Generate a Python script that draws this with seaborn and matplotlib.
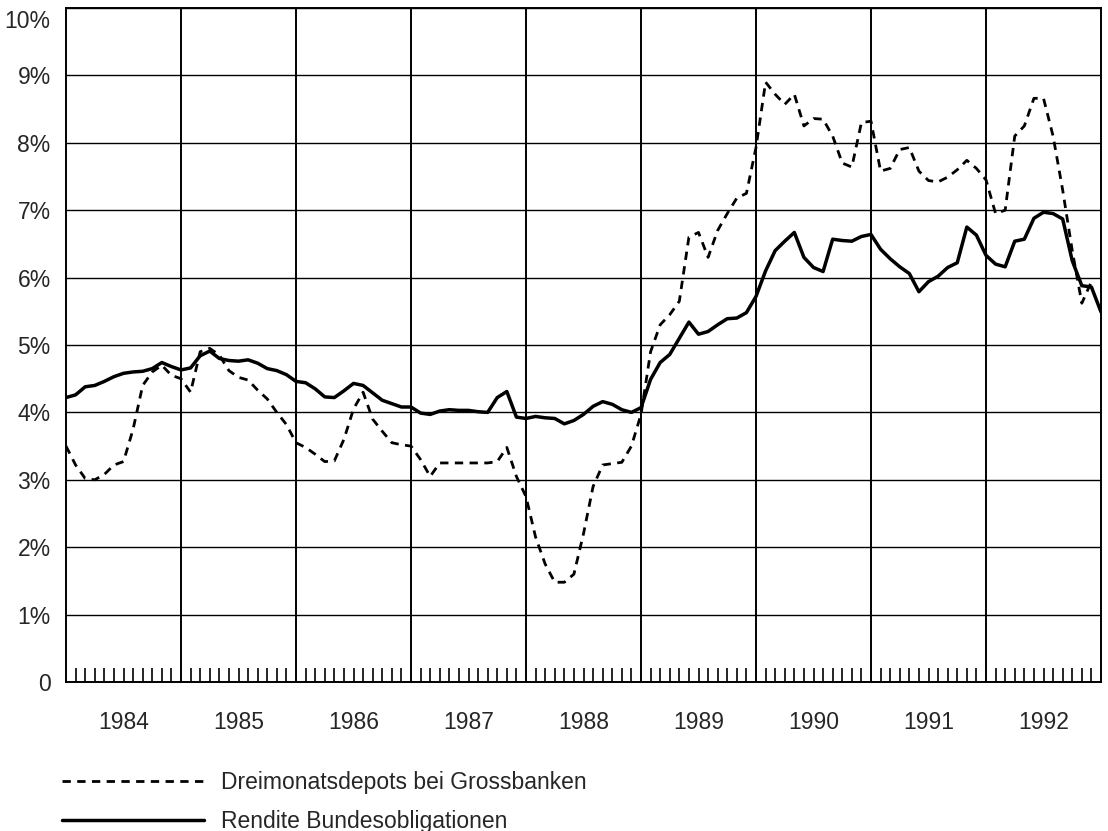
import numpy as np
import pandas as pd
import matplotlib.pyplot as plt
import matplotlib.transforms as mtransforms
import seaborn as sns

# Jahre auf der x-Achse
jahre = [1984, 1985, 1986, 1987, 1988, 1989, 1990, 1991, 1992]

# Monatswerte in Prozent, ab Januar 1984
dreimonat = [
    3.50, 3.22, 3.02, 3.00, 3.08, 3.22, 3.27, 3.75, 4.40, 4.60, 4.70, 4.55,
    4.50, 4.30, 4.90, 4.95, 4.85, 4.62, 4.52, 4.48, 4.33, 4.20, 4.00, 3.82,
    3.55, 3.48, 3.38, 3.27, 3.28, 3.60, 4.05, 4.30, 3.90, 3.72, 3.55, 3.52,
    3.50, 3.30, 3.05, 3.25, 3.25, 3.25, 3.25, 3.25, 3.25, 3.27, 3.48, 3.05,
    2.75, 2.15, 1.75, 1.48, 1.48, 1.60, 2.20, 2.90, 3.22, 3.24, 3.26, 3.50,
    3.97, 4.90, 5.30, 5.45, 5.65, 6.60, 6.67, 6.30, 6.70, 6.95, 7.18, 7.25,
    7.93, 8.90, 8.72, 8.57, 8.72, 8.25, 8.36, 8.35, 8.10, 7.70, 7.64, 8.30,
    8.32, 7.58, 7.62, 7.90, 7.93, 7.58, 7.44, 7.42, 7.49, 7.60, 7.74, 7.62,
    7.45, 6.95, 7.00, 8.10, 8.25, 8.66, 8.66, 8.10, 7.30, 6.40, 5.62, 5.94,
]
rendite = [
    4.22, 4.26, 4.38, 4.40, 4.46, 4.53, 4.58, 4.60, 4.61, 4.65, 4.74, 4.68,
    4.63, 4.66, 4.84, 4.91, 4.80, 4.77, 4.76, 4.78, 4.73, 4.65, 4.62, 4.56,
    4.46, 4.44, 4.35, 4.23, 4.22, 4.32, 4.43, 4.40, 4.29, 4.18, 4.13, 4.08,
    4.08, 3.99, 3.97, 4.02, 4.04, 4.03, 4.03, 4.01, 4.00, 4.22, 4.31, 3.93,
    3.91, 3.94, 3.92, 3.91, 3.83, 3.88, 3.97, 4.09, 4.16, 4.12, 4.04, 4.00,
    4.07, 4.49, 4.74, 4.86, 5.10, 5.34, 5.16, 5.20, 5.30, 5.39, 5.40, 5.48,
    5.72, 6.10, 6.40, 6.54, 6.67, 6.30, 6.15, 6.09, 6.57, 6.55, 6.54, 6.61,
    6.64, 6.42, 6.28, 6.16, 6.06, 5.79, 5.94, 6.02, 6.15, 6.22, 6.75, 6.63,
    6.33, 6.20, 6.16, 6.54, 6.57, 6.88, 6.97, 6.95, 6.87, 6.25, 5.88, 5.86,
    5.49,
]

y_ticks = list(range(0, 11))
y_labels = ['0'] + [f'{v}%' for v in range(1, 11)]

sns.set_style('white')
plt.rcParams['font.family'] = ['Liberation Sans', 'DejaVu Sans']

df_d = pd.DataFrame({'zeit': jahre[0] + np.arange(len(dreimonat)) / 12, 'wert': dreimonat})
df_r = pd.DataFrame({'zeit': jahre[0] + np.arange(len(rendite)) / 12, 'wert': rendite})

fig = plt.figure(figsize=(11.08, 8.31), dpi=100)
ax = fig.add_axes([66 / 1108, 1 - 682 / 831, (1101 - 66) / 1108, (682 - 8) / 831])

# Gitter
for v in y_ticks[1:]:
    ax.axhline(v, color='black', lw=1.0, zorder=1)
for j in jahre[1:]:
    ax.axvline(j, color='black', lw=1.4, zorder=1)

sns.lineplot(data=df_d, x='zeit', y='wert', ax=ax, color='black', lw=2.0,
             linestyle=(0, (3, 2.3)), label='Dreimonatsdepots bei Grossbanken', zorder=3)
sns.lineplot(data=df_r, x='zeit', y='wert', ax=ax, color='black', lw=2.5,
             label='Rendite Bundesobligationen', zorder=3)

ax.set_xlim(jahre[0], jahre[-1] + 1)
ax.set_ylim(0, 10)
ax.set_xlabel('')
ax.set_ylabel('')

ax.set_yticks(y_ticks)
ax.set_yticklabels(y_labels, fontsize=16.5)
ax.tick_params(axis='y', length=0, pad=11)
# oberstes Label etwas nach unten, wie im Original
top_lbl = ax.get_yticklabels()[-1]
top_lbl.set_transform(top_lbl.get_transform() +
                      mtransforms.ScaledTranslation(0, -11 / 100, fig.dpi_scale_trans))

# Jahreslabels mittig, Monatsstriche unten
ax.xaxis.remove_overlapping_locs = False
ax.set_xticks([j + 0.5 for j in jahre])
ax.set_xticklabels([str(j) for j in jahre], fontsize=16.5)
ax.tick_params(axis='x', which='major', length=0, pad=21)
monate = [jahre[0] + k / 12 for k in range(1, 12 * len(jahre)) if k % 12 != 0]
ax.set_xticks(monate, minor=True)
ax.tick_params(axis='x', which='minor', direction='in', length=10, width=1.2,
               color='black', bottom=True)

for s in ax.spines.values():
    s.set_color('black')
    s.set_linewidth(1.4)

leg_lines = [l for l in ax.get_lines() if l.get_label() in
             ('Dreimonatsdepots bei Grossbanken', 'Rendite Bundesobligationen')]
ax.legend(handles=leg_lines, loc='upper left', bbox_to_anchor=(62 / 1108, 1 - 771 / 831),
          bbox_transform=fig.transFigure, frameon=False, fontsize=16.5,
          handlelength=6.2, handletextpad=0.75, labelspacing=0.7,
          borderpad=0, borderaxespad=0)

fig.savefig('out.png', dpi=100)
